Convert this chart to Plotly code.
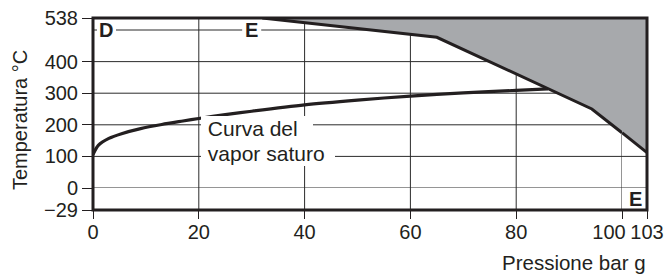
import plotly.graph_objects as go

# ---------------- data ----------------
# saturated-steam curve (pressure bar g -> temperature °C)
sat_pressure = [0, 1, 3, 5.4, 9, 13, 17, 20, 25, 30, 40, 50, 60, 70, 80, 86]
sat_temperature = [106, 135, 157, 172, 188, 201, 212, 220, 232, 243, 263, 278, 291, 301, 309, 314]

# upper limit curve bounding the grey (forbidden) region
limit_pressure = [32, 65, 94.3, 100, 103]
limit_temperature = [538, 477, 250, 175, 112]

# axis values (broken axes: 0-100 and 100-103 ; -29..0 and 0..538)
x_main_range = [0, 100]
x_ext_range = [100, 103]
y_top_range = [0, 538]
y_bot_range = [-29, 0]
x_main_ticks = [0, 20, 40, 60, 80]
x_break_ticks = [100]
x_ext_ticks = [103]
y_top_ticks = [0, 100, 200, 300, 400, 538]
y_bot_ticks = [-29]
h_grid = [0, 100, 200, 300, 400]
v_grid = [20, 40, 60, 80, 100]

# "D ---- E ----" reference line
de_level = 500
d_pos = 2.55
e_pos = 30
e_bottom = (101.6, -15)

x_title = "Pressione bar g"
y_title = "Temperatura °C"
curve_label_1 = "Curva del"
curve_label_2 = "vapor saturo"

# ---------------- style ----------------
INK = "#231f20"
GRID = "#2b2b2b"
GREY = "#a7a9ac"
FONT = "Liberation Sans, Arial, sans-serif"
LABEL_GAP = 1.8  # half gap (x units) around D / E on their line

fig = go.Figure()

# grey region, split over the two x segments
main_idx = [i for i, p in enumerate(limit_pressure) if p <= x_main_range[1]]
ext_idx = [i for i, p in enumerate(limit_pressure) if p >= x_ext_range[0]]

fig.add_trace(go.Scatter(
    x=[limit_pressure[i] for i in main_idx] + [x_main_range[1], limit_pressure[0]],
    y=[limit_temperature[i] for i in main_idx] + [y_top_range[1], y_top_range[1]],
    xaxis="x", yaxis="y", mode="lines", fill="toself", fillcolor=GREY,
    line=dict(width=0, color=GREY), hoverinfo="skip", showlegend=False))
fig.add_trace(go.Scatter(
    x=[limit_pressure[i] for i in ext_idx] + [x_ext_range[1], x_ext_range[0]],
    y=[limit_temperature[i] for i in ext_idx] + [y_top_range[1], y_top_range[1]],
    xaxis="x2", yaxis="y", mode="lines", fill="toself", fillcolor=GREY,
    line=dict(width=0, color=GREY), hoverinfo="skip", showlegend=False))

# boundary line
fig.add_trace(go.Scatter(
    x=[limit_pressure[i] for i in main_idx], y=[limit_temperature[i] for i in main_idx],
    xaxis="x", yaxis="y", mode="lines", line=dict(width=3, color=INK),
    hoverinfo="skip", showlegend=False))
fig.add_trace(go.Scatter(
    x=[limit_pressure[i] for i in ext_idx], y=[limit_temperature[i] for i in ext_idx],
    xaxis="x2", yaxis="y", mode="lines", line=dict(width=3, color=INK),
    hoverinfo="skip", showlegend=False))

# saturation curve
fig.add_trace(go.Scatter(
    x=sat_pressure, y=sat_temperature, xaxis="x", yaxis="y", mode="lines",
    line=dict(width=3.2, color=INK, shape="spline", smoothing=0.8),
    hoverinfo="skip", showlegend=False))

# empty traces so the lower / overlay subplots exist
fig.add_trace(go.Scatter(x=[], y=[], xaxis="x", yaxis="y2", showlegend=False))
fig.add_trace(go.Scatter(x=[], y=[], xaxis="x2", yaxis="y2", showlegend=False))
fig.add_trace(go.Scatter(x=[], y=[], xaxis="x3", yaxis="y2", showlegend=False))

shapes = []
for v in h_grid:
    shapes.append(dict(type="line", xref="paper", yref="y", x0=0, x1=1, y0=v, y1=v,
                       line=dict(color=GRID, width=1), layer="below"))
for v in v_grid:
    shapes.append(dict(type="line", xref="x", yref="paper", x0=v, x1=v, y0=0, y1=1,
                       line=dict(color=GRID, width=1), layer="below"))
# D ---- E ---- line, interrupted around the letters
for a, b in [(x_main_range[0], d_pos - LABEL_GAP),
             (d_pos + LABEL_GAP, e_pos - LABEL_GAP),
             (e_pos + LABEL_GAP, x_main_range[1])]:
    shapes.append(dict(type="line", xref="x", yref="y", x0=a, x1=b, y0=de_level, y1=de_level,
                       line=dict(color=GRID, width=1), layer="below"))
shapes.append(dict(type="rect", xref="paper", yref="paper", x0=0, x1=1, y0=0, y1=1,
                   line=dict(color=INK, width=3), layer="above"))

tickfont = dict(family=FONT, size=20, color=INK)
common = dict(showgrid=False, zeroline=False, showline=False, ticks="outside",
              tickwidth=1, tickcolor=INK, tickfont=tickfont, fixedrange=True,
              automargin=False)

XSPLIT = 529 / 554
YSPLIT = 22 / 192

fig.update_layout(
    width=669, height=280,
    margin=dict(l=93, r=22, t=18, b=70, pad=0, autoexpand=False),
    paper_bgcolor="white", plot_bgcolor="white",
    xaxis=dict(domain=[0, XSPLIT], range=x_main_range, anchor="y2",
               tickmode="array", tickvals=x_main_ticks,
               ticklen=8, ticklabelstandoff=-4, **common),
    xaxis3=dict(domain=[0, XSPLIT], range=x_main_range, anchor="y2", overlaying="x",
                side="bottom", tickmode="array", tickvals=x_break_ticks,
                ticklen=8, ticklabelstandoff=-4, ticklabelshift=-13, **common),
    xaxis2=dict(domain=[XSPLIT, 1], range=x_ext_range, anchor="y2",
                tickmode="array", tickvals=x_ext_ticks, ticklen=8,
                ticklabelstandoff=-4, **common),
    yaxis=dict(domain=[YSPLIT, 1], range=y_top_range, anchor="x",
               tickmode="array", tickvals=y_top_ticks, ticklen=10, **common),
    yaxis2=dict(domain=[0, YSPLIT], range=y_bot_range, anchor="x",
                tickmode="array", tickvals=y_bot_ticks, ticklen=10, **common),
    shapes=shapes,
    showlegend=False,
)

ann = []
# curve labels with white background
ann.append(dict(text="\u00a0" + curve_label_1, xref="x", yref="y", x=20.5, y=187,
                xanchor="left", yanchor="middle", showarrow=False, align="left",
                bgcolor="white", borderwidth=0, borderpad=1, width=110,
                font=dict(family=FONT, size=21, color=INK)))
ann.append(dict(text="\u00a0" + curve_label_2, xref="x", yref="y", x=20.5, y=109,
                xanchor="left", yanchor="middle", showarrow=False, align="left",
                bgcolor="white", borderwidth=0, borderpad=1, width=132,
                font=dict(family=FONT, size=21, color=INK)))
# D / E markers
bold = dict(family=FONT, size=20, color=INK)
ann.append(dict(text="<b>D</b>", xref="x", yref="y", x=d_pos, y=de_level, showarrow=False,
                font=bold))
ann.append(dict(text="<b>E</b>", xref="x", yref="y", x=e_pos, y=de_level, showarrow=False,
                font=bold))
ann.append(dict(text="<b>E</b>", xref="x2", yref="y2", x=e_bottom[0], y=e_bottom[1],
                showarrow=False, font=bold))
# axis titles
ann.append(dict(text=x_title, xref="paper", yref="paper", x=1.002, y=-0.276,
                xanchor="right", yanchor="middle", showarrow=False,
                font=dict(family=FONT, size=20.5, color=INK)))
ann.append(dict(text=y_title, xref="paper", yref="paper", x=-0.1327, y=0.471,
                xanchor="center", yanchor="middle", textangle=-90, showarrow=False,
                font=dict(family=FONT, size=20, color=INK)))
fig.update_layout(annotations=ann)

fig.write_html("out.html", config={"displayModeBar": False},
               post_script="document.body.style.margin='0';document.body.style.padding='0';")
